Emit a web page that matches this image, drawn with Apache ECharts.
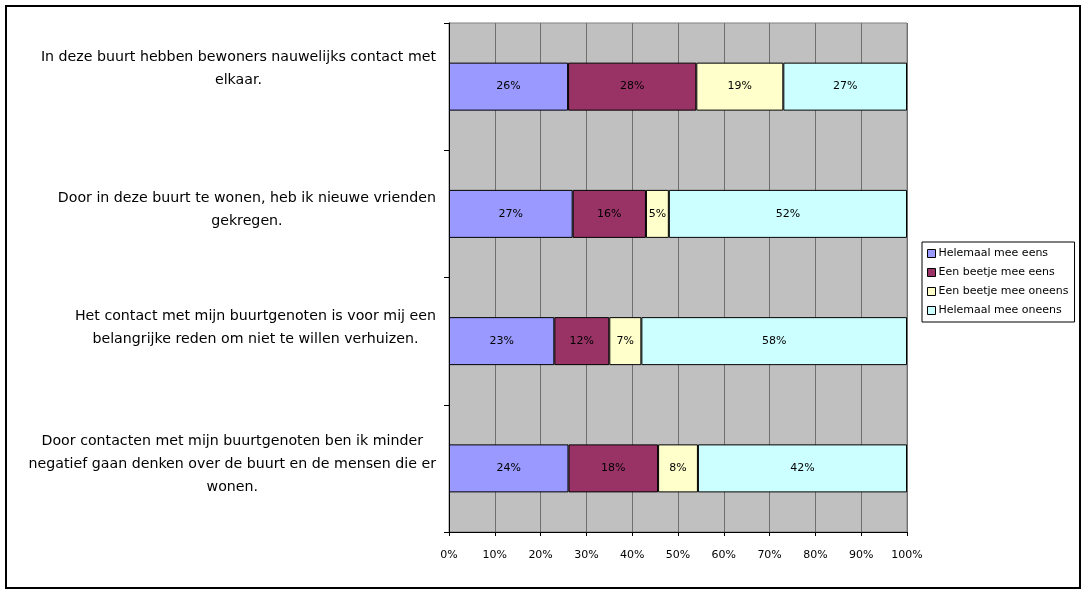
<!DOCTYPE html>
<html>
<head>
<meta charset="utf-8">
<script src="https://cdn.jsdelivr.net/npm/echarts@6/dist/echarts.min.js"></script>
<style>html,body{margin:0;padding:0;background:#fff}#c{width:1086px;height:594px}</style>
</head>
<body>
<div id="c"></div>
<script>
const categories = [
  "In deze buurt hebben bewoners nauwelijks contact met\nelkaar.",
  "Door in deze buurt te wonen, heb ik nieuwe vrienden\ngekregen.",
  "Het contact met mijn buurtgenoten is voor mij een\nbelangrijke reden om niet te willen verhuizen.",
  "Door contacten met mijn buurtgenoten ben ik minder\nnegatief gaan denken over de buurt en de mensen die er\nwonen."
];
const seriesNames = ["Helemaal mee eens", "Een beetje mee eens", "Een beetje mee oneens", "Helemaal mee oneens"];
const helemaalMeeEens = [26, 27, 23, 24];
const beetjeMeeEens = [28, 16, 12, 18];
const beetjeMeeOneens = [19, 5, 7, 8];
const helemaalMeeOneens = [27, 52, 58, 42];
const xTickValues = [0, 10, 20, 30, 40, 50, 60, 70, 80, 90, 100];

const colors = ["#9999FF", "#993366", "#FFFFCC", "#CCFFFF"];
const labelShift = [18, 4, 13, 4];
const FONT = "DejaVu Sans";

const raw = [helemaalMeeEens, beetjeMeeEens, beetjeMeeOneens, helemaalMeeOneens];
const totals = categories.map((_, i) => raw.reduce((s, arr) => s + arr[i], 0));

const chart = echarts.init(document.getElementById('c'), null, {renderer: 'canvas'});
chart.setOption({
  animation: false,
  backgroundColor: '#fff',
  graphic: [{
    type: 'rect', silent: true, z: 100,
    shape: {x: 6, y: 6, width: 1074, height: 582},
    style: {fill: 'none', stroke: '#000', lineWidth: 2}
  }],
  grid: {
    left: 449, right: 179, top: 23, bottom: 62,
    show: true, backgroundColor: '#C0C0C0', borderColor: '#808080', borderWidth: 1
  },
  legend: {
    orient: 'vertical', left: 922, top: 242,
    backgroundColor: '#fff', borderColor: '#000', borderWidth: 1,
    padding: [6, 6, 6, 5],
    itemWidth: 8, itemHeight: 8, itemGap: 8, icon: 'rect',
    itemStyle: {borderColor: '#000', borderWidth: 1},
    textStyle: {fontFamily: FONT, fontSize: 11, color: '#000', padding: [0, 0, 0, -2]},
    data: seriesNames
  },
  xAxis: {
    type: 'value', min: 0, max: 100, interval: 10,
    axisLine: {show: true, lineStyle: {color: '#000'}},
    axisTick: {show: true, length: 4, lineStyle: {color: '#000'}},
    axisLabel: {
      margin: 18, fontFamily: FONT, fontSize: 11, color: '#000',
      formatter: v => xTickValues.includes(v) ? v + '%' : ''
    },
    splitLine: {show: true, lineStyle: {color: '#6f6f6f', width: 1}}
  },
  yAxis: {
    type: 'category', inverse: true,
    data: categories.map((c, i) => ({
      value: c,
      textStyle: {padding: [0, 0, 2 * labelShift[i], 0]}
    })),
    axisLine: {show: true, lineStyle: {color: '#000', width: 1}},
    axisTick: {show: true, length: 5, alignWithLabel: false, lineStyle: {color: '#000'}},
    axisLabel: {
      margin: 13, align: 'right',
      formatter: v => v.split('\n').map(l => '{c|' + l + '}').join('\n'),
      rich: {c: {align: 'center', fontFamily: FONT, fontSize: 14.2, lineHeight: 23, color: '#000'}}
    },
    splitLine: {show: false}
  },
  series: raw.map((arr, k) => ({
    name: seriesNames[k],
    type: 'bar', stack: 'total', barWidth: 48,
    itemStyle: {color: colors[k], borderColor: '#000', borderWidth: 1},
    label: {
      show: true, position: 'inside', color: '#000', fontFamily: FONT, fontSize: 11,
      formatter: p => arr[p.dataIndex] + '%'
    },
    data: arr.map((v, i) => v / totals[i] * 100)
  }))
});
</script>
</body>
</html>
